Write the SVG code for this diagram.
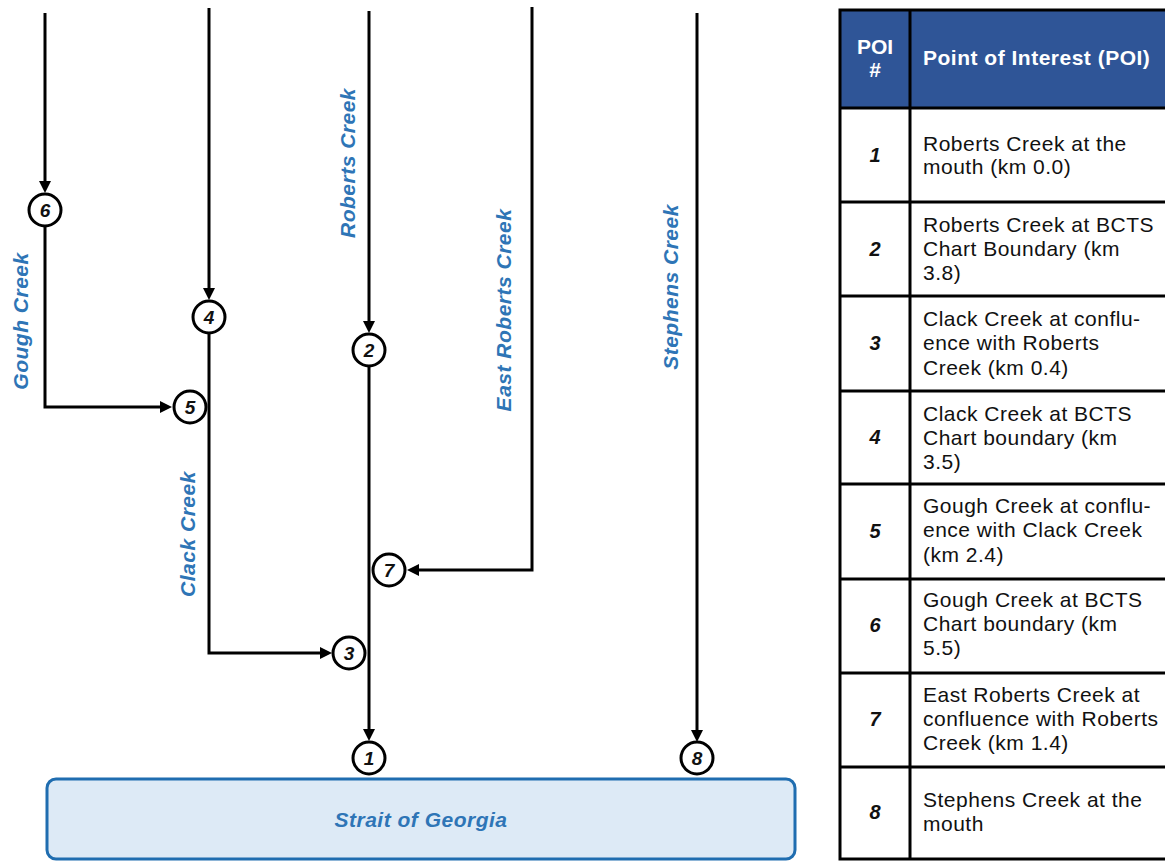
<svg xmlns="http://www.w3.org/2000/svg" width="1165" height="861" viewBox="0 0 1165 861">
<style>
.flow{fill:none;stroke:#000;stroke-width:3}
.poi circle{fill:#fff;stroke:#000;stroke-width:3}
.poi text{font-family:"Liberation Sans",Arial,sans-serif;font-weight:bold;font-style:italic;font-size:19px;fill:#111;text-anchor:middle}
.lbl{font-family:"Liberation Sans",Arial,sans-serif;font-weight:bold;font-style:italic;font-size:21px;letter-spacing:0.5px;fill:#2E75B6;text-anchor:middle}
.hdr{font-family:"Liberation Sans",Arial,sans-serif;font-weight:bold;font-size:21px;fill:#fff}
.num{font-family:"Liberation Sans",Arial,sans-serif;font-weight:bold;font-style:italic;font-size:20px;fill:#111;text-anchor:middle}
.cell{font-family:"Liberation Sans",Arial,sans-serif;font-size:21px;letter-spacing:0.5px;fill:#111}
.grid{stroke:#000;stroke-width:3;fill:none}
</style>
<defs>
<marker id="ah" markerUnits="userSpaceOnUse" markerWidth="12" markerHeight="12" viewBox="0 0 12 12" refX="8" refY="6" orient="auto">
<path d="M0,0 L12,6 L0,12 z" fill="#000"/>
</marker>
</defs>
<rect width="1165" height="861" fill="#fff"/>

<g id="strait">
<rect x="47" y="779" width="748" height="80" rx="9" fill="#DDEAF6" stroke="#1F6DB0" stroke-width="3"/>
<text class="lbl" x="421" y="827">Strait of Georgia</text>
</g>

<g id="connectors">
<path class="flow" d="M45,13 V189" marker-end="url(#ah)"/>
<path class="flow" d="M45,227 V407 H168" marker-end="url(#ah)"/>
<path class="flow" d="M209,8 V296" marker-end="url(#ah)"/>
<path class="flow" d="M209,334 V653 H328" marker-end="url(#ah)"/>
<path class="flow" d="M369,11 V329" marker-end="url(#ah)"/>
<path class="flow" d="M369,367 V737" marker-end="url(#ah)"/>
<path class="flow" d="M532,7 V570 H411" marker-end="url(#ah)"/>
<path class="flow" d="M697,13 V738" marker-end="url(#ah)"/>
</g>

<g id="labels">
<text class="lbl" transform="translate(28,321) rotate(-90)">Gough Creek</text>
<text class="lbl" transform="translate(195,534) rotate(-90)">Clack Creek</text>
<text class="lbl" transform="translate(355,163) rotate(-90)">Roberts Creek</text>
<text class="lbl" transform="translate(511,310) rotate(-90)">East Roberts Creek</text>
<text class="lbl" transform="translate(678,287) rotate(-90)">Stephens Creek</text>
</g>

<g id="poi6" class="poi"><circle cx="45" cy="210" r="16"/><text x="45" y="217">6</text></g>
<g id="poi4" class="poi"><circle cx="209" cy="317" r="16"/><text x="209" y="324">4</text></g>
<g id="poi5" class="poi"><circle cx="190" cy="407" r="16"/><text x="190" y="414">5</text></g>
<g id="poi2" class="poi"><circle cx="369" cy="350" r="16"/><text x="369" y="357">2</text></g>
<g id="poi7" class="poi"><circle cx="389" cy="570" r="16"/><text x="389" y="577">7</text></g>
<g id="poi3" class="poi"><circle cx="349" cy="653" r="16"/><text x="349" y="660">3</text></g>
<g id="poi1" class="poi"><circle cx="369" cy="758" r="16"/><text x="369" y="765">1</text></g>
<g id="poi8" class="poi"><circle cx="697" cy="758" r="16"/><text x="697" y="765">8</text></g>

<g id="table">
<rect x="840" y="10" width="330" height="98" fill="#2F5597"/>
<rect class="grid" x="840" y="10" width="330" height="849"/>
<path class="grid" d="M910,10 V859 M840,108 H1170 M840,202 H1170 M840,296 H1170 M840,391 H1170 M840,484 H1170 M840,579 H1170 M840,673 H1170 M840,767 H1170"/>
<text class="hdr" x="875" y="54" text-anchor="middle">POI</text>
<text class="hdr" x="875" y="77" text-anchor="middle">#</text>
<text class="hdr" x="923" y="65" letter-spacing="0.5">Point of Interest (POI)</text>

<text class="num" x="875" y="162">1</text>
<text class="cell" x="923" y="151">Roberts Creek at the</text>
<text class="cell" x="923" y="174">mouth (km 0.0)</text>

<text class="num" x="875" y="256">2</text>
<text class="cell" x="923" y="232">Roberts Creek at BCTS</text>
<text class="cell" x="923" y="256">Chart Boundary (km</text>
<text class="cell" x="923" y="280">3.8)</text>

<text class="num" x="875" y="350">3</text>
<text class="cell" x="923" y="326">Clack Creek at conflu-</text>
<text class="cell" x="923" y="350">ence with Roberts</text>
<text class="cell" x="923" y="375">Creek (km 0.4)</text>

<text class="num" x="875" y="444">4</text>
<text class="cell" x="923" y="421">Clack Creek at BCTS</text>
<text class="cell" x="923" y="445">Chart boundary (km</text>
<text class="cell" x="923" y="469">3.5)</text>

<text class="num" x="875" y="538">5</text>
<text class="cell" x="923" y="513">Gough Creek at conflu-</text>
<text class="cell" x="923" y="537">ence with Clack Creek</text>
<text class="cell" x="923" y="562">(km 2.4)</text>

<text class="num" x="875" y="632">6</text>
<text class="cell" x="923" y="607">Gough Creek at BCTS</text>
<text class="cell" x="923" y="631">Chart boundary (km</text>
<text class="cell" x="923" y="655">5.5)</text>

<text class="num" x="875" y="726">7</text>
<text class="cell" x="923" y="702">East Roberts Creek at</text>
<text class="cell" x="923" y="726">confluence with Roberts</text>
<text class="cell" x="923" y="750">Creek (km 1.4)</text>

<text class="num" x="875" y="819">8</text>
<text class="cell" x="923" y="807">Stephens Creek at the</text>
<text class="cell" x="923" y="831">mouth</text>
</g>
</svg>
